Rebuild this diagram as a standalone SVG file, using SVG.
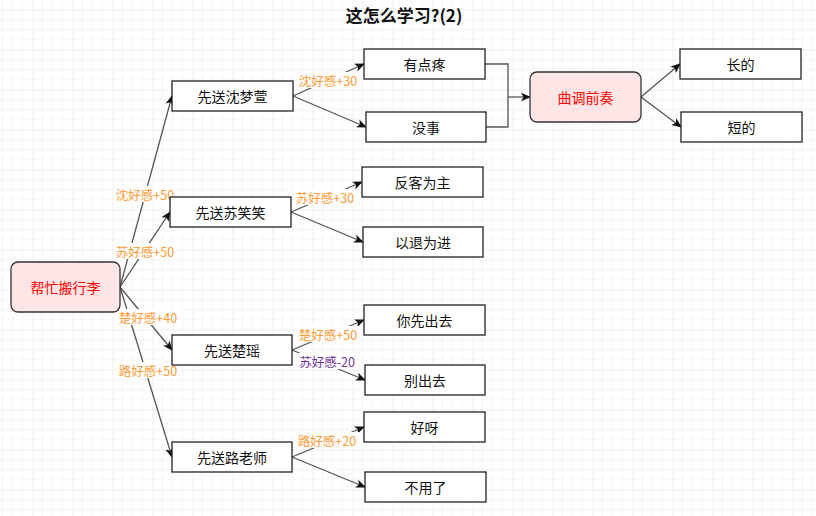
<svg xmlns="http://www.w3.org/2000/svg" width="816" height="516" viewBox="0 0 816 516">
<defs>
<pattern id="grid" patternUnits="userSpaceOnUse" x="32.5" y="9.5" width="40" height="40">
<path d="M10 0V40M20 0V40M30 0V40M0 10H40M0 20H40M0 30H40" stroke="#f3f3f3" stroke-width="1" fill="none"/>
<path d="M0 0V40M0 0H40" stroke="#dedede" stroke-width="1" fill="none"/>
</pattern>
<marker id="arr" viewBox="0 0 10 10" refX="9" refY="5" markerWidth="10" markerHeight="10" markerUnits="userSpaceOnUse" orient="auto">
<path d="M0 0.8L10 5L0 9.2L2.5 5Z" fill="#111"/>
</marker>
<style>
.box{fill:#fff;stroke:#222;stroke-width:1.3}
.pink{fill:#ffe6e6;stroke:#333;stroke-width:1.3}
.t{font-family:"Noto Sans CJK SC","Microsoft YaHei",sans-serif;font-size:14px;text-anchor:middle;dominant-baseline:central;fill:#111}
.r{fill:#ff0000}
.e{fill:none;stroke:#555;stroke-width:1.3}
.lb{fill:#fff}
.l{font-family:"Noto Sans CJK SC","Microsoft YaHei",sans-serif;font-size:12.5px;text-anchor:middle;dominant-baseline:central;fill:#ff9933}
.p{fill:#7030a0}
.title{font-family:"Noto Sans CJK SC","Microsoft YaHei",sans-serif;font-size:17px;font-weight:bold;text-anchor:middle;fill:#111}
</style>
</defs>
<rect width="816" height="516" fill="#fff"/>
<rect width="816" height="516" fill="url(#grid)"/>
<text class="title" x="404" y="22">这怎么学习?(2)</text>

<g id="connectors">
<path class="e" d="M120 287L172 96" marker-end="url(#arr)"/>
<path class="e" d="M120 287L170 212" marker-end="url(#arr)"/>
<path class="e" d="M120 287L172 350" marker-end="url(#arr)"/>
<path class="e" d="M120 287L172 457" marker-end="url(#arr)"/>
<path class="e" d="M293 96L364 64" marker-end="url(#arr)"/>
<path class="e" d="M293 96L366 127" marker-end="url(#arr)"/>
<path class="e" d="M291 212L362 182" marker-end="url(#arr)"/>
<path class="e" d="M291 212L363 242" marker-end="url(#arr)"/>
<path class="e" d="M292 350L364 320" marker-end="url(#arr)"/>
<path class="e" d="M292 350L365 380" marker-end="url(#arr)"/>
<path class="e" d="M292 457L364 427" marker-end="url(#arr)"/>
<path class="e" d="M292 457L365 487" marker-end="url(#arr)"/>
<path class="e" d="M485 64H508V127H486"/>
<path class="e" d="M508 97H530" marker-end="url(#arr)"/>
<path class="e" d="M641 97L680 64" marker-end="url(#arr)"/>
<path class="e" d="M641 97L681 127" marker-end="url(#arr)"/>
<rect class="lb" x="114" y="186" width="62" height="16"/>
<text class="l" x="145" y="194">沈好感+50</text>
<rect class="lb" x="114" y="243" width="62" height="16"/>
<text class="l" x="145" y="251">苏好感+50</text>
<rect class="lb" x="116" y="309" width="63" height="16"/>
<text class="l" x="148" y="317">楚好感+40</text>
<rect class="lb" x="116" y="362" width="63" height="16"/>
<text class="l" x="148" y="370">路好感+50</text>
<rect class="lb" x="296" y="72" width="63" height="16"/>
<text class="l" x="328" y="80">沈好感+30</text>
<rect class="lb" x="294" y="189" width="63" height="16"/>
<text class="l" x="325" y="197">苏好感+30</text>
<rect class="lb" x="296" y="326" width="63" height="16"/>
<text class="l" x="328" y="334">楚好感+50</text>
<rect class="lb" x="297" y="353" width="60" height="16"/>
<text class="l p" x="327" y="361">苏好感-20</text>
<rect class="lb" x="296" y="432" width="63" height="16"/>
<text class="l" x="327" y="440">路好感+20</text>
</g>

<g id="n-help"><rect class="pink" x="11" y="262" width="109" height="50" rx="7"/><text class="t r" x="65.5" y="287">帮忙搬行李</text></g>
<g id="n-shen"><rect class="box" x="172" y="81" width="121" height="30"/><text class="t" x="232.5" y="96">先送沈梦萱</text></g>
<g id="n-su"><rect class="box" x="170" y="197" width="121" height="30"/><text class="t" x="230.5" y="212">先送苏笑笑</text></g>
<g id="n-chu"><rect class="box" x="172" y="335" width="120" height="30"/><text class="t" x="232" y="350">先送楚瑶</text></g>
<g id="n-lu"><rect class="box" x="172" y="442" width="120" height="30"/><text class="t" x="232" y="457">先送路老师</text></g>
<g id="n-youdian"><rect class="box" x="364" y="49" width="121" height="30"/><text class="t" x="424.5" y="64">有点疼</text></g>
<g id="n-meishi"><rect class="box" x="366" y="112" width="120" height="30"/><text class="t" x="426" y="127">没事</text></g>
<g id="n-fanke"><rect class="box" x="362" y="167" width="121" height="30"/><text class="t" x="422.5" y="182">反客为主</text></g>
<g id="n-yitui"><rect class="box" x="363" y="227" width="120" height="30"/><text class="t" x="423" y="242">以退为进</text></g>
<g id="n-nixian"><rect class="box" x="364" y="305" width="121" height="30"/><text class="t" x="424.5" y="320">你先出去</text></g>
<g id="n-bie"><rect class="box" x="365" y="365" width="120" height="30"/><text class="t" x="425" y="380">别出去</text></g>
<g id="n-haoya"><rect class="box" x="364" y="412" width="121" height="30"/><text class="t" x="424.5" y="427">好呀</text></g>
<g id="n-buyong"><rect class="box" x="365" y="472" width="121" height="30"/><text class="t" x="425.5" y="487">不用了</text></g>
<g id="n-qudiao"><rect class="pink" x="530" y="72" width="111" height="50" rx="7"/><text class="t r" x="585.5" y="97">曲调前奏</text></g>
<g id="n-chang"><rect class="box" x="680" y="49" width="121" height="30"/><text class="t" x="740.5" y="64">长的</text></g>
<g id="n-duan"><rect class="box" x="681" y="112" width="121" height="30"/><text class="t" x="741.5" y="127">短的</text></g>
</svg>
